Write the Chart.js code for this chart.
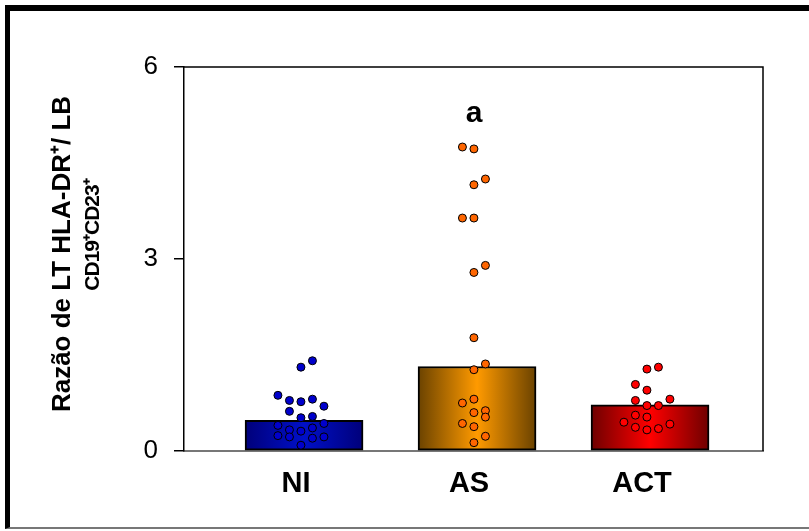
<!DOCTYPE html>
<html>
<head>
<meta charset="utf-8">
<script src="https://cdn.jsdelivr.net/npm/chart.js@4"></script>
<style>
  html, body { margin: 0; padding: 0; background: #fff; overflow: hidden; }
  #wrap { position: relative; width: 809px; height: 531px; }
  #frame {
    position: absolute; left: 5px; top: 5px; width: 830px; height: 516px;
    border-top: 6px solid #000; border-left: 5px solid #000; border-bottom: 2px solid #777;
  }
  #c { position: absolute; left: 0; top: 0; }
</style>
</head>
<body>
<div id="wrap">
  <div id="frame"></div>
  <canvas id="c" width="809" height="531"></canvas>
</div>
<script>
Chart.defaults.font.family = "'Liberation Sans', Arial, Helvetica, sans-serif";
Chart.defaults.color = "#000";

const groups = ["NI", "AS", "ACT"];
const groupPos = [1, 2, 3];
const means = [0.48, 1.32, 0.72];
const yTicks = [0, 3, 6];
const yTitle = ["Razão de LT HLA-DR\u207A/ LB", "CD19\u207ACD23\u207A"];
const sigLabel = "a";   // shown above AS

// individual values per group, and the column each dot sits in (-2..2)
const niValues = [1.31, 1.41, 0.87, 0.79, 0.77, 0.81, 0.70, 0.62, 0.52, 0.54,
                  0.40, 0.33, 0.31, 0.36, 0.43, 0.24, 0.22, 0.20, 0.22, 0.09];
const niCols   = [0, 1, -2, -1, 0, 1, 2, -1, 0, 1, -2, -1, 0, 1, 2, -2, -1, 1, 2, 0];
const asValues = [4.75, 4.72, 4.25, 4.16, 3.64, 3.64, 2.90, 2.79, 1.77, 1.36,
                  1.27, 0.75, 0.81, 0.60, 0.63, 0.53, 0.43, 0.38, 0.23, 0.13];
const asCols   = [-1, 0, 1, 0, -1, 0, 1, 0, 0, 1, 0, -1, 0, 0, 1, 1, -1, 0, 1, 0];
const actValues = [1.28, 1.31, 1.04, 0.95, 0.79, 0.81, 0.71, 0.71, 0.56, 0.53,
                   0.45, 0.37, 0.33, 0.35, 0.42];
const actCols   = [0, 1, -1, 0, -1, 2, 0, 1, -1, 0, -2, -1, 0, 1, 2];

const barEdge = ["#00007a", "#6a4200", "#6e0000"];
const barMid  = ["#0010c8", "#ff9a00", "#ff0000"];
const dotColors = ["#0000cc", "#ff6600", "#ff0000"];

const colStep = 0.0665;   // dot column spacing in x units
const dotShift = -0.018;

const dots = (vals, cols, pos) => vals.map((v, i) => ({ x: pos + dotShift + cols[i] * colStep, y: v }));

function barGradient(context) {
  const chart = context.chart;
  const xs = chart.scales.x;
  const i = context.dataIndex;
  if (!xs || i === undefined) return barMid[0];
  const cx = xs.getPixelForValue(groupPos[i]);
  if (!isFinite(cx)) return barMid[i];
  const g = chart.ctx.createLinearGradient(cx - 59, 0, cx + 59, 0);
  g.addColorStop(0, barEdge[i]);
  g.addColorStop(0.5, barMid[i]);
  g.addColorStop(1, barEdge[i]);
  return g;
}

const boxPlugin = {
  id: "box",
  afterDraw(chart) {
    const { ctx, chartArea: { top, right, bottom, left } } = chart;
    ctx.save();
    ctx.strokeStyle = "#000";
    ctx.lineWidth = 1.5;
    ctx.beginPath();
    ctx.moveTo(left, top);
    ctx.lineTo(right, top);
    ctx.lineTo(right, bottom);
    ctx.stroke();

    // significance letter over AS
    const xs = chart.scales.x, ys = chart.scales.y;
    ctx.font = "bold 30px 'Liberation Sans', Arial, sans-serif";
    ctx.fillStyle = "#000";
    ctx.textAlign = "center";
    ctx.textBaseline = "alphabetic";
    ctx.fillText(sigLabel, xs.getPixelForValue(groupPos[1]) - 3, ys.getPixelForValue(Math.max(...asValues)) - 25);

    // y title, two lines of different size
    const mid = (top + bottom) / 2;
    ctx.textBaseline = "middle";
    ctx.translate(ys.left + 63, mid - 5);
    ctx.rotate(-Math.PI / 2);
    ctx.font = "bold 26px 'Liberation Sans', Arial, sans-serif";
    ctx.fillText(yTitle[0], 0, 0);
    ctx.font = "bold 21px 'Liberation Sans', Arial, sans-serif";
    ctx.letterSpacing = "-1px";
    ctx.fillText(yTitle[1], 19, 30);
    ctx.restore();
  }
};

new Chart(document.getElementById("c"), {
  type: "bar",
  data: {
    datasets: [
      {
        type: "bar",
        data: means.map((m, i) => ({ x: groupPos[i], y: m })),
        backgroundColor: barGradient,
        borderColor: "#000",
        borderWidth: 2,
        borderSkipped: false,
        barThickness: 118,
        grouped: false,
        order: 2
      },
      {
        type: "scatter",
        data: dots(niValues, niCols, groupPos[0]),
        backgroundColor: dotColors[0],
        borderColor: "#000",
        borderWidth: 1,
        pointRadius: 4,
        order: 1
      },
      {
        type: "scatter",
        data: dots(asValues, asCols, groupPos[1]),
        backgroundColor: dotColors[1],
        borderColor: "#000",
        borderWidth: 1,
        pointRadius: 4,
        order: 1
      },
      {
        type: "scatter",
        data: dots(actValues, actCols, groupPos[2]),
        backgroundColor: dotColors[2],
        borderColor: "#000",
        borderWidth: 1,
        pointRadius: 4,
        order: 1
      }
    ]
  },
  plugins: [boxPlugin],
  options: {
    responsive: false,
    animation: false,
    layout: { padding: { left: 0, top: 67, right: 46, bottom: 0 } },
    plugins: { legend: { display: false }, tooltip: { enabled: false } },
    scales: {
      x: {
        type: "linear",
        offset: false,
        min: 0.306,
        max: 3.653,
        afterBuildTicks: (s) => { s.ticks = groupPos.map(v => ({ value: v })); },
        afterFit: (s) => { s.height = 80; },
        grid: { display: false, drawTicks: false },
        border: { display: true, color: "#777", width: 2 },
        ticks: {
          padding: 16,
          labelOffset: -8,
          font: { size: 29, weight: "bold" },
          callback: (v) => groups[groupPos.indexOf(v)] || ""
        }
      },
      y: {
        min: 0,
        max: 6,
        afterBuildTicks: (s) => { s.ticks = yTicks.map(v => ({ value: v })); },
        afterFit: (s) => { s.width = 184; },
        grid: { drawOnChartArea: false, drawTicks: true, tickLength: 10, color: "#000", lineWidth: 1.5 },
        border: { display: true, color: "#000", width: 1.5 },
        ticks: { padding: 16, font: { size: 26 } }
      }
    }
  }
});
</script>
</body>
</html>
